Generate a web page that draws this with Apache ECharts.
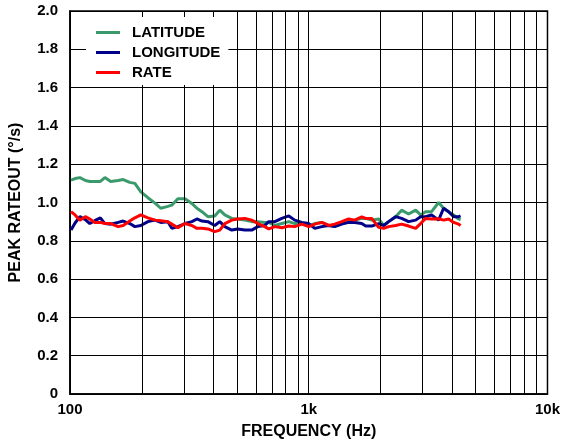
<!DOCTYPE html>
<html>
<head>
<meta charset="utf-8">
<script src="https://cdn.jsdelivr.net/npm/echarts@6/dist/echarts.min.js"></script>
<style>
html,body{margin:0;padding:0;background:#fff;}
#chart{width:563px;height:448px;}
</style>
</head>
<body>
<div id="chart"></div>
<script>
// Frequencies (Hz)
const freq = [101,105,110,116,121,127,134,140,148,159,167,178,187,198,212,227,240,257,267,283,303,324,340,357,378,404,424,445,476,504,540,577,612,654,680,721,771,825,874,935,1000,1060,1134,1213,1285,1374,1470,1558,1667,1732,1835,1963,2060,2161,2312,2449,2620,2804,2941,3087,3270,3499,3672,3853,4044,4243,4325];
const latitude = [1.117,1.125,1.13,1.115,1.11,1.11,1.11,1.13,1.11,1.115,1.12,1.105,1.10,1.056,1.025,0.997,0.97,0.98,0.986,1.02,1.02,0.995,0.97,0.952,0.926,0.93,0.96,0.935,0.917,0.914,0.908,0.9,0.9,0.895,0.896,0.88,0.89,0.9,0.89,0.89,0.88,0.89,0.896,0.88,0.877,0.89,0.9,0.908,0.917,0.917,0.908,0.914,0.88,0.9,0.926,0.96,0.94,0.96,0.935,0.952,0.952,1.0,0.97,0.952,0.935,0.914,0.91];
const longitude = [0.856,0.893,0.926,0.91,0.89,0.905,0.92,0.89,0.887,0.896,0.903,0.89,0.874,0.88,0.9,0.908,0.896,0.9,0.865,0.874,0.89,0.9,0.914,0.903,0.9,0.88,0.9,0.874,0.856,0.862,0.856,0.856,0.874,0.88,0.9,0.9,0.917,0.93,0.908,0.896,0.89,0.865,0.874,0.88,0.874,0.887,0.896,0.895,0.89,0.877,0.877,0.89,0.88,0.9,0.926,0.917,0.9,0.908,0.926,0.926,0.935,0.908,0.97,0.952,0.926,0.926,0.93];
const rate = [0.952,0.935,0.908,0.926,0.914,0.896,0.896,0.89,0.89,0.874,0.88,0.903,0.92,0.935,0.92,0.908,0.905,0.9,0.887,0.868,0.89,0.88,0.865,0.865,0.862,0.848,0.856,0.89,0.908,0.914,0.917,0.908,0.89,0.874,0.862,0.874,0.868,0.877,0.874,0.887,0.874,0.887,0.896,0.88,0.887,0.9,0.914,0.908,0.925,0.917,0.917,0.87,0.865,0.874,0.88,0.887,0.877,0.865,0.89,0.917,0.914,0.915,0.908,0.914,0.896,0.887,0.88];
// Minor vertical grid lines (Hz)
const minorGrid = [200,300,400,500,600,700,800,900,2000,3000,4000,5000,6000,7000,8000,9000];
const xLabels = {100:'100',1000:'1k',10000:'10k'};

const font = 'Liberation Sans, Arial, sans-serif';
const fs = 15;
const pair = (ys) => freq.map((f,i)=>[f, ys[i]]);

const chart = echarts.init(document.getElementById('chart'), null, {renderer:'canvas'});
chart.setOption({
  animation:false,
  backgroundColor:'#fff',
  grid:{left:70,right:15,top:11,bottom:54,show:true,borderColor:'#000',borderWidth:1.5},
  legend:{
    data:['LATITUDE','LONGITUDE','RATE'],
    orient:'vertical',left:86,top:17,z:10,
    backgroundColor:'#fff',
    padding:[8,8,5,10],
    icon:'rect',
    itemWidth:24,itemHeight:3,itemGap:5,
    textStyle:{fontFamily:font,fontWeight:'bold',fontSize:fs,color:'#000',padding:[0,0,0,7]}
  },
  xAxis:{
    type:'log',logBase:10,min:100,max:10000,
    name:'FREQUENCY (Hz)',nameLocation:'middle',nameGap:30,
    nameTextStyle:{fontFamily:font,fontWeight:'bold',fontSize:16,color:'#000'},
    axisLine:{show:true,lineStyle:{color:'#000',width:1.5}},
    axisTick:{show:false},
    axisLabel:{fontFamily:font,fontWeight:'bold',fontSize:fs,color:'#000',margin:8,
      formatter:(v)=>xLabels[Math.round(v)]||''},
    splitLine:{show:true,lineStyle:{color:'#000',width:1}},
    minorTick:{show:false},minorSplitLine:{show:false}
  },
  yAxis:{
    type:'value',min:0,max:2,interval:0.2,
    name:'PEAK RATEOUT (°/s)',nameLocation:'middle',nameGap:46,
    nameTextStyle:{fontFamily:font,fontWeight:'bold',fontSize:16,color:'#000'},
    axisLine:{show:true,lineStyle:{color:'#000',width:1.5}},
    axisTick:{show:false},
    axisLabel:{fontFamily:font,fontWeight:'bold',fontSize:fs,color:'#000',margin:12,
      formatter:(v)=> v===0 ? '0' : v.toFixed(1)},
    splitLine:{show:true,lineStyle:{color:'#000',width:1}}
  },
  series:[
    {name:'grid',type:'line',data:[],z:1,silent:true,
     markLine:{silent:true,symbol:['none','none'],label:{show:false},
       lineStyle:{color:'#000',width:1,type:'solid'},
       emphasis:{disabled:true},
       data:minorGrid.map(v=>({xAxis:v}))}},
    {name:'LATITUDE',type:'line',data:pair(latitude),showSymbol:false,symbol:'none',z:3,
     lineStyle:{color:'#3a9a6c',width:3},itemStyle:{color:'#3a9a6c'}},
    {name:'LONGITUDE',type:'line',data:pair(longitude),showSymbol:false,symbol:'none',z:4,
     lineStyle:{color:'#000088',width:3},itemStyle:{color:'#000088'}},
    {name:'RATE',type:'line',data:pair(rate),showSymbol:false,symbol:'none',z:5,
     lineStyle:{color:'#ff0000',width:3},itemStyle:{color:'#ff0000'}}
  ]
});
</script>
</body>
</html>
